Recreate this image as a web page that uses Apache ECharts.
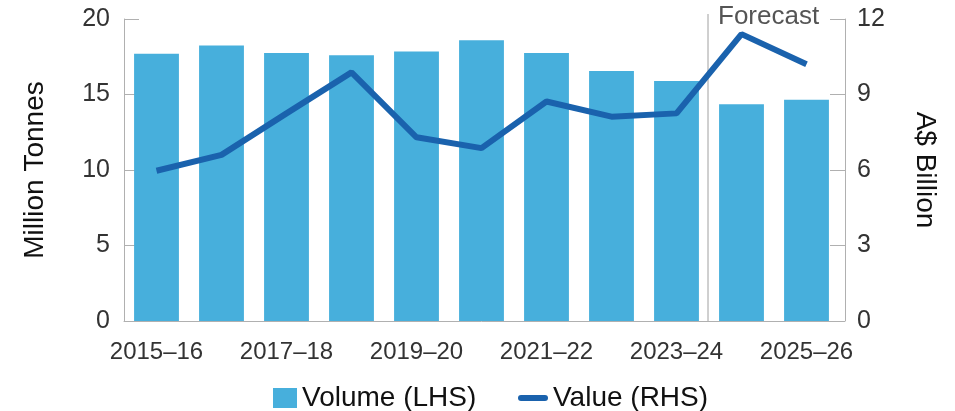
<!DOCTYPE html>
<html><head><meta charset="utf-8">
<script src="https://cdn.jsdelivr.net/npm/echarts@6/dist/echarts.min.js"></script>
<style>html,body{margin:0;padding:0;background:#fff;}#c{width:955px;height:411px;}</style>
</head><body><div id="c"></div>
<script>
const categories = ['2015–16','2016–17','2017–18','2018–19','2019–20','2020–21','2021–22','2022–23','2023–24','2024–25','2025–26'];
const volume = [17.7, 18.25, 17.75, 17.6, 17.85, 18.6, 17.75, 16.55, 15.9, 14.35, 14.65];
const value = [5.97, 6.6, 8.25, 9.88, 7.3, 6.87, 8.72, 8.12, 8.25, 11.4, 10.2];
const leftTicks = {min: 0, max: 20, interval: 5};
const rightTicks = {min: 0, max: 12, interval: 3};
const forecastStartIndex = 9;

const FONT = 'Liberation Sans, Arial, sans-serif';
const chart = echarts.init(document.getElementById('c'));
const legendText = {fontSize: 28, color: '#111', fontFamily: FONT};
chart.setOption({
  animation: false,
  textStyle: {fontFamily: FONT},
  grid: {left: 124, right: 116, top: 19, bottom: 90},
  legend: [{
    left: 268, top: 379, itemWidth: 24, itemHeight: 20,
    textStyle: legendText,
    data: [{name: 'Volume (LHS)', icon: 'rect'}]
  }, {
    left: 513, top: 379, itemWidth: 30, itemHeight: 20, itemGap: 12,
    textStyle: legendText,
    data: [{name: 'Value (RHS)', icon: 'path://M3,0 L27,0 A3,3 0 0 1 27,6 L3,6 A3,3 0 0 1 3,0 Z'}]
  }],
  xAxis: [{
    type: 'category', data: categories,
    axisLine: {lineStyle: {color: '#b0b0b0', width: 1}},
    axisTick: {alignWithLabel: true, interval: 1, length: 10, lineStyle: {color: '#b0b0b0'}},
    axisLabel: {interval: 1, fontSize: 24, color: '#333', margin: 19, fontFamily: FONT}
  }, {
    type: 'value', min: 0, max: categories.length, show: false
  }],
  yAxis: [{
    type: 'value', min: leftTicks.min, max: leftTicks.max, interval: leftTicks.interval,
    offset: 2,
    name: 'Million Tonnes', nameLocation: 'middle', nameRotate: 90, nameGap: 73,
    nameTextStyle: {fontSize: 28, color: '#111', fontFamily: FONT},
    axisLine: {show: true, lineStyle: {color: '#b0b0b0'}},
    axisTick: {show: true, inside: true, length: 15, lineStyle: {color: '#b0b0b0'}},
    axisLabel: {fontSize: 25, color: '#333', margin: 12, fontFamily: FONT},
    splitLine: {show: false}
  }, {
    type: 'value', min: rightTicks.min, max: rightTicks.max, interval: rightTicks.interval,
    position: 'right', offset: 6,
    name: 'A$ Billion', nameLocation: 'middle', nameRotate: -90, nameGap: 66,
    nameTextStyle: {fontSize: 28, color: '#111', fontFamily: FONT},
    axisLine: {show: true, lineStyle: {color: '#b0b0b0'}},
    axisTick: {show: true, inside: true, length: 15, lineStyle: {color: '#b0b0b0'}},
    axisLabel: {fontSize: 25, color: '#333', margin: 12, fontFamily: FONT},
    splitLine: {show: false}
  }],
  series: [{
    name: 'Volume (LHS)', type: 'bar', data: volume, barCategoryGap: '31%',
    itemStyle: {color: '#47afdc'}
  }, {
    name: 'Value (RHS)', type: 'line', data: value, yAxisIndex: 1,
    symbol: 'none', lineStyle: {color: '#1a62ad', width: 6}, itemStyle: {color: '#1a62ad'}
  }]
});

const px = chart.convertToPixel({xAxisIndex: 1}, forecastStartIndex);
const yBottom = chart.convertToPixel({yAxisIndex: 0}, leftTicks.min);
chart.setOption({
  graphic: [{
    type: 'line', shape: {x1: px - 1, y1: 14, x2: px - 1, y2: yBottom},
    style: {stroke: '#a0a0a0', lineWidth: 1}, z: 1
  }, {
    type: 'text', left: px + 9, top: 4,
    style: {text: 'Forecast', font: '26px ' + FONT, fill: '#555'}, z: 10
  }]
});
</script></body></html>
